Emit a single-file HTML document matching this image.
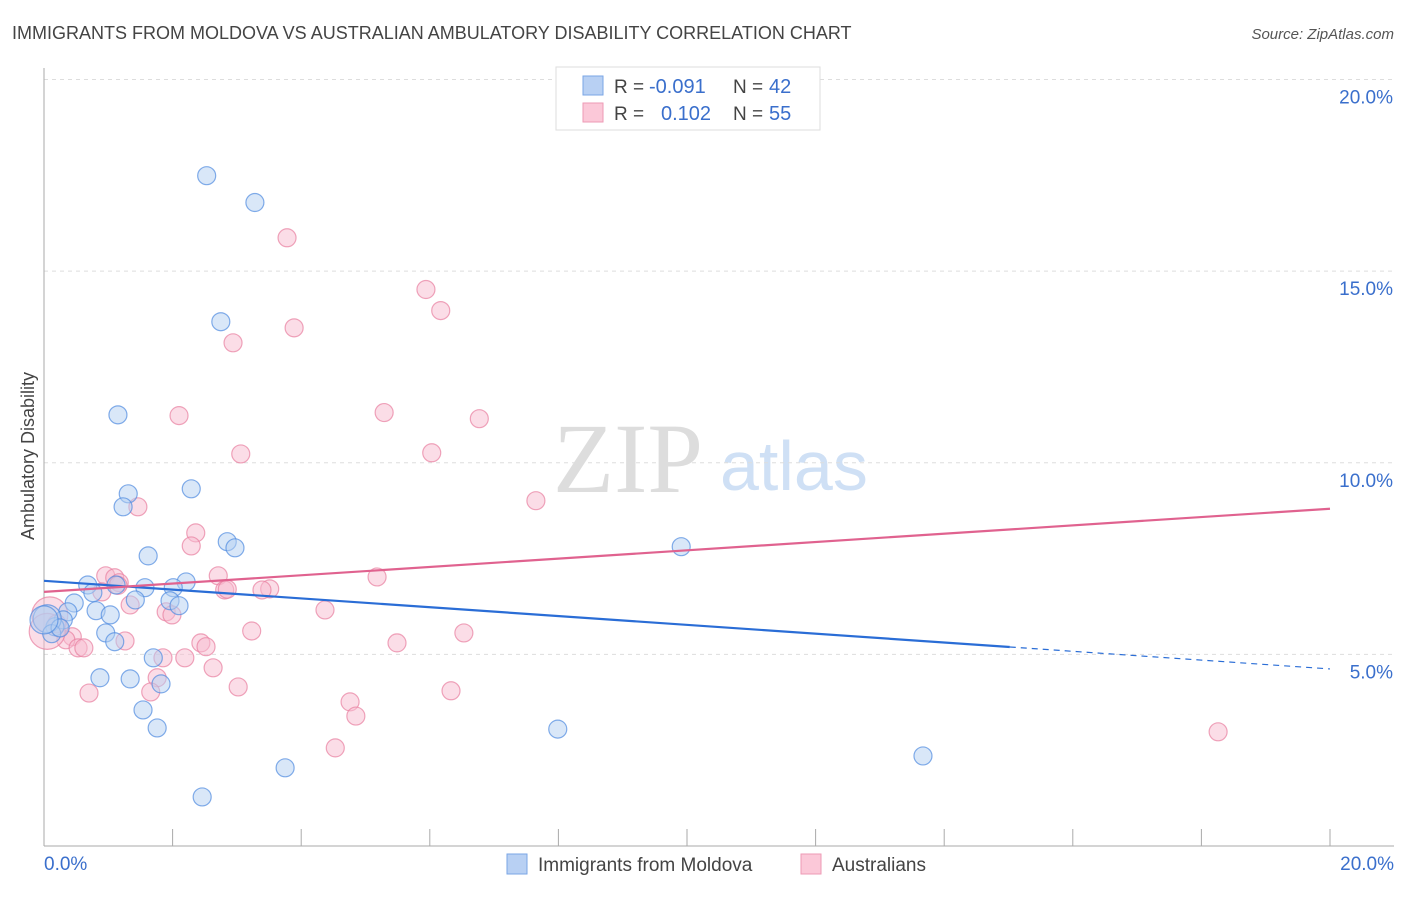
<!DOCTYPE html>
<html><head><meta charset="utf-8"><style>
body{margin:0;background:#fff;font-family:"Liberation Sans",sans-serif;}
svg text{font-family:"Liberation Sans",sans-serif;}
</style></head><body>
<svg id="chart" width="1406" height="892" xmlns="http://www.w3.org/2000/svg">
<text x="12" y="39" font-size="18" fill="#444">IMMIGRANTS FROM MOLDOVA VS AUSTRALIAN AMBULATORY DISABILITY CORRELATION CHART</text>
<text x="1394" y="39" font-size="15" fill="#555" text-anchor="end" font-style="italic">Source: ZipAtlas.com</text>
<text x="553" y="492" font-size="100" fill="#ddd" style="font-family:'Liberation Serif',serif">ZIP</text>
<text x="720" y="490" font-size="70" fill="#cfe0f5">atlas</text>
<text transform="translate(34,456) rotate(-90)" font-size="18" fill="#444" text-anchor="middle">Ambulatory Disability</text>
<g id="grid"></g><g id="axes"></g><g id="pts"></g><g id="lines"></g>
<g>
<rect x="556" y="67" width="264" height="63" fill="#fff" stroke="#ddd"/>
<rect x="583" y="76" width="20" height="19" fill="#b8d0f3" stroke="#7aa6e6"/>
<rect x="583" y="103" width="20" height="19" fill="#fbc8d8" stroke="#ee9ab5"/>
<text x="614" y="93" font-size="19" fill="#444">R =</text><text x="649" y="93" font-size="20" fill="#3a6fcc">-0.091</text>
<text x="733" y="93" font-size="19" fill="#444">N =</text><text x="769" y="93" font-size="20" fill="#3a6fcc">42</text>
<text x="614" y="120" font-size="19" fill="#444">R =</text><text x="661" y="120" font-size="20" fill="#3a6fcc">0.102</text>
<text x="733" y="120" font-size="19" fill="#444">N =</text><text x="769" y="120" font-size="20" fill="#3a6fcc">55</text>
</g>
<g>
<rect x="507" y="854" width="20" height="20" fill="#b8d0f3" stroke="#7aa6e6"/>
<text x="538" y="871" font-size="19" fill="#444">Immigrants from Moldova</text>
<rect x="801" y="854" width="20" height="20" fill="#fbc8d8" stroke="#ee9ab5"/>
<text x="832" y="871" font-size="19" fill="#444">Australians</text>
</g>
</svg>
<script>
const yTicks=[5,10,15,20];
const yTickLabels=["5.0%","10.0%","15.0%","20.0%"];
const xTickLabels=["0.0%","20.0%"];
const blueX=[2.53,3.28,2.75,1.15,1.31,2.29,1.23,1.62,2.85,2.97,9.91,0.68,1.12,1.57,2.21,2.01,0.76,0.47,1.42,1.96,2.10,0.37,0.81,1.03,0.30,0.17,0.05,0.12,0.96,1.10,1.70,0.87,1.34,1.82,1.54,1.76,7.99,3.75,2.46,13.67,0.25,0.0];
const blueY=[17.49,16.79,13.68,11.25,9.19,9.32,8.85,7.57,7.94,7.78,7.81,6.81,6.81,6.74,6.89,6.74,6.61,6.34,6.42,6.40,6.27,6.11,6.14,6.03,5.90,5.72,5.93,5.54,5.56,5.33,4.91,4.39,4.36,4.23,3.55,3.08,3.05,2.04,1.28,2.35,5.69,5.9];
const pinkX=[3.78,5.94,6.17,3.89,2.94,2.10,5.29,6.77,3.06,6.03,7.65,1.46,2.36,2.29,0.96,1.10,2.71,5.18,1.17,0.90,3.51,3.39,2.81,1.34,1.90,4.37,1.99,3.23,6.53,0.44,0.34,1.26,2.44,5.49,2.52,0.53,0.62,1.85,2.19,2.63,1.76,0.70,1.66,3.02,6.33,4.76,4.85,4.53,18.26,0.09,0.23,2.85,1.15,0.05,0.2];
const pinkY=[15.87,14.52,13.97,13.52,13.13,11.23,11.31,11.15,10.23,10.26,9.01,8.85,8.17,7.83,7.05,7.00,7.05,7.02,6.87,6.63,6.71,6.68,6.68,6.29,6.11,6.16,6.03,5.61,5.56,5.46,5.38,5.35,5.30,5.30,5.20,5.17,5.17,4.91,4.91,4.65,4.39,3.99,4.02,4.15,4.05,3.76,3.39,2.56,2.98,6.03,5.69,6.70,6.80,5.6,5.8];
const blueTrend=[6.92,4.62], blueSolidEnd=15.02;
const pinkTrend=[6.63,8.80];
const X0=44,X1=1330,Y0=846,Y20=79.5;
const sx=v=>X0+(v/20)*(X1-X0), sy=v=>Y0-(v/20)*(Y0-Y20);
const NS="http://www.w3.org/2000/svg";
function mk(p,t,a){const e=document.createElementNS(NS,t);for(const k in a)e.setAttribute(k,a[k]);document.getElementById(p).appendChild(e);return e;}
yTicks.forEach((t,i)=>{
 const g=mk('grid','line',{x1:X0,x2:1394,y1:sy(t),y2:sy(t),stroke:'#ddd','stroke-dasharray':'4,4'});
 
 
 const l=mk('axes','text',{x:1393,y:sy(t)+24,'font-size':19,fill:'#3a6fcc','text-anchor':'end'});
 l.textContent=yTickLabels[i];
 
 
});
const ax=mk('axes','line',{x1:X0,x2:X0,y1:68,y2:846,stroke:'#aaa'});


const bx=mk('axes','line',{x1:X0,x2:1394,y1:846,y2:846,stroke:'#aaa'});


for(let i=0;i<=10;i++){const t=mk('axes','line',{x1:sx(i*2),x2:sx(i*2),y1:829,y2:846,stroke:'#aaa'});
 
 }
[[0,'start',X0],[20,'end',1394]].forEach((d,i)=>{const l=mk('axes','text',{x:d[2],y:870,'font-size':19,fill:'#3a6fcc','text-anchor':d[1]});l.textContent=xTickLabels[i];
 
 });
function pts(xs,ys,fill,stroke,name){xs.forEach((x,i)=>{const big=(x<0.1);const c=mk('pts','circle',{cx:sx(x),cy:sy(ys[i]),r:big?(name==='pink-point'?18:14):9,fill:fill,'fill-opacity':0.5,stroke:stroke,'stroke-opacity':0.7,'stroke-width':1.2});
 
 });}
pts(pinkX,pinkY,'#f8bcd0','#e87fa0','pink-point');
pts(blueX,blueY,'#b3cff2','#4f8ae0','blue-point');
const bt=v=>blueTrend[0]+(blueTrend[1]-blueTrend[0])*v/20;
let l1=mk('lines','line',{x1:sx(0),y1:sy(bt(0)),x2:sx(blueSolidEnd),y2:sy(bt(blueSolidEnd)),stroke:'#2a6dd6','stroke-width':2.2});


let l2=mk('lines','line',{x1:sx(blueSolidEnd),y1:sy(bt(blueSolidEnd)),x2:sx(20),y2:sy(bt(20)),stroke:'#2a6dd6','stroke-width':1.2,'stroke-dasharray':'6,5'});


let l3=mk('lines','line',{x1:sx(0),y1:sy(pinkTrend[0]),x2:sx(20),y2:sy(pinkTrend[1]),stroke:'#e0628f','stroke-width':2.2});


</script>
</body></html>
